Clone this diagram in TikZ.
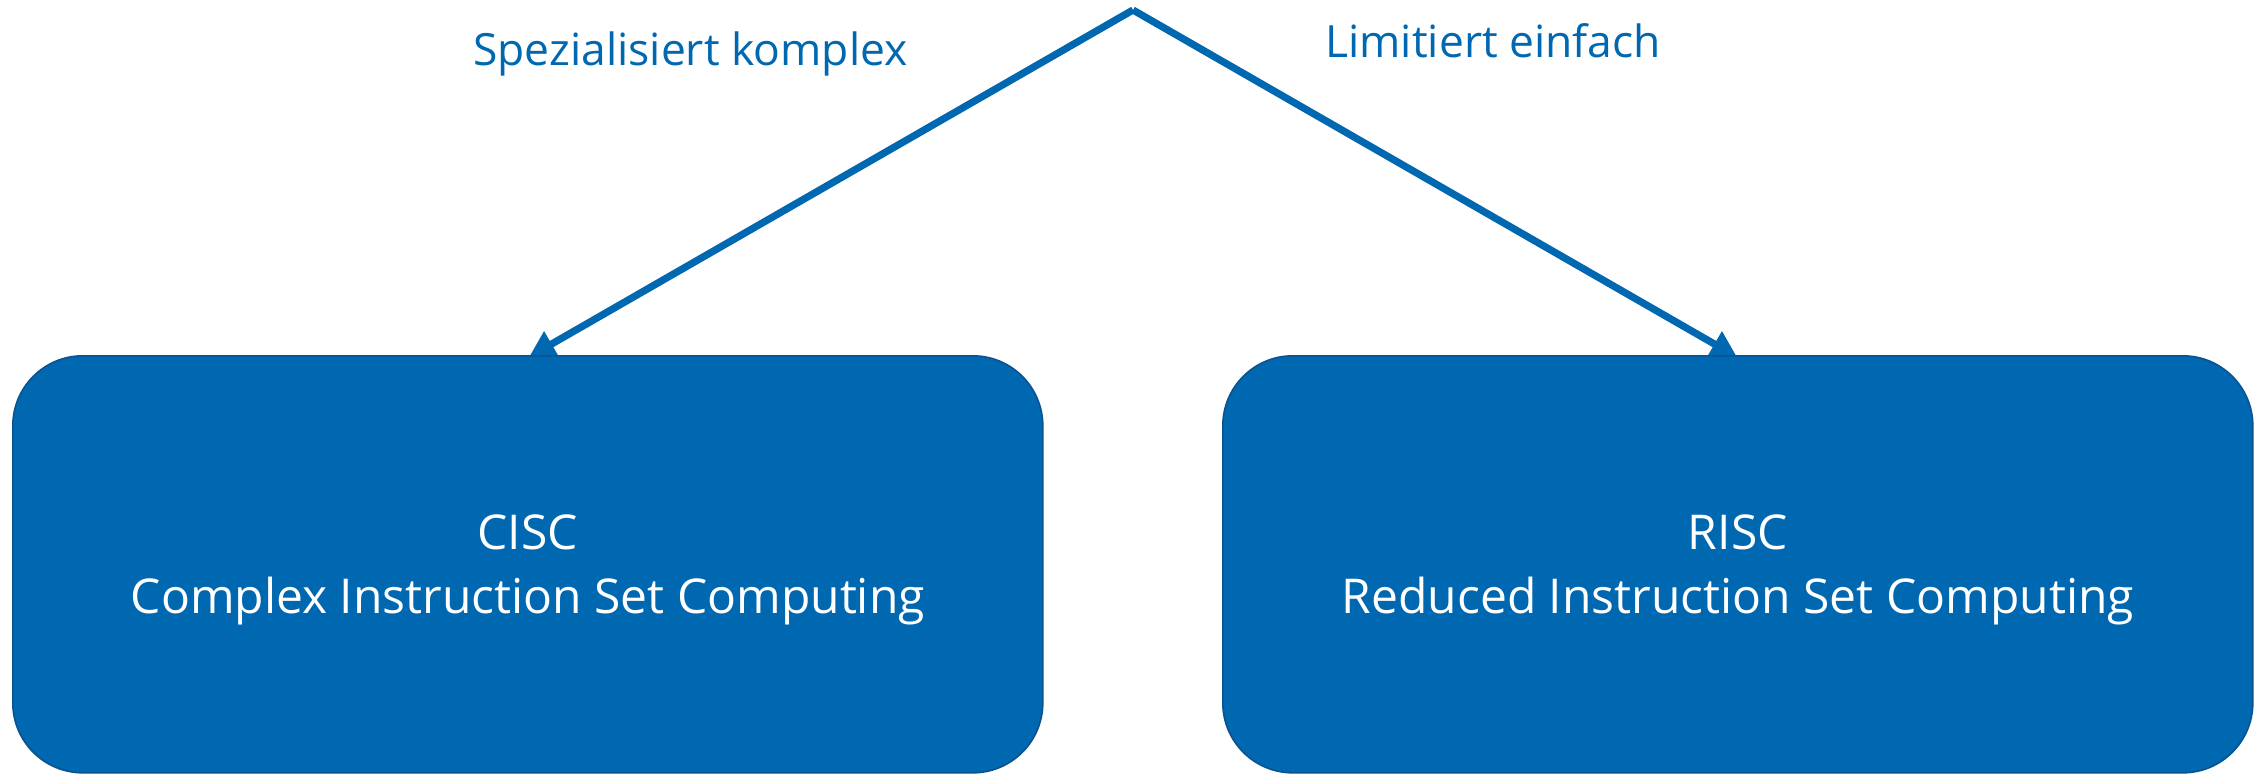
\documentclass[tikz,border=0pt]{standalone}
\usepackage{fontspec}
\setmainfont{Open Sans}
\usetikzlibrary{arrows.meta}
\definecolor{boxblue}{HTML}{0067B1}
\definecolor{boxedge}{HTML}{0B5390}
\tikzset{
  branch/.style={draw=boxblue, line width=3.6pt, line cap=butt,
    -{Triangle[length=13pt,width=14pt]}},
  archbox/.style={draw=boxedge, line width=0.8pt, fill=boxblue,
    rounded corners=35pt, minimum width=515pt, minimum height=208.5pt,
    inner sep=0pt, anchor=north west},
  archtext/.style={text=white, align=center, font=\fontsize{24}{32}\selectfont},
  branchlabel/.style={text=boxblue, anchor=base west, inner sep=0pt,
    font=\fontsize{22.2}{26}\selectfont}
}
\begin{document}
\begin{tikzpicture}[x=0.5pt, y=-0.5pt]
  \useasboundingbox (0,0) rectangle (2260,773);
  % apex and arrow end points
  \coordinate (apex) at (1133,10);
  \coordinate (cisc-in) at (529,357);
  \coordinate (risc-in) at (1737,357);
  \draw[branch] (apex) -- (cisc-in);
  \draw[branch] (apex) -- (risc-in);
  % the two architecture boxes
  \node[archbox] (cisc) at (12,355) {};
  \node[archbox] (risc) at (1222,355) {};
  \node[archtext] (cisc-label) at ([yshift=-3pt]cisc.center) {CISC\\Complex Instruction Set Computing};
  \node[archtext] (risc-label) at ([yshift=-3pt]risc.center) {RISC\\Reduced Instruction Set Computing};
  % branch labels
  \node[branchlabel] (left-label) at (473,65) {Spezialisiert komplex};
  \node[branchlabel] (right-label) at (1325,57) {Limitiert einfach};
\end{tikzpicture}
\end{document}
